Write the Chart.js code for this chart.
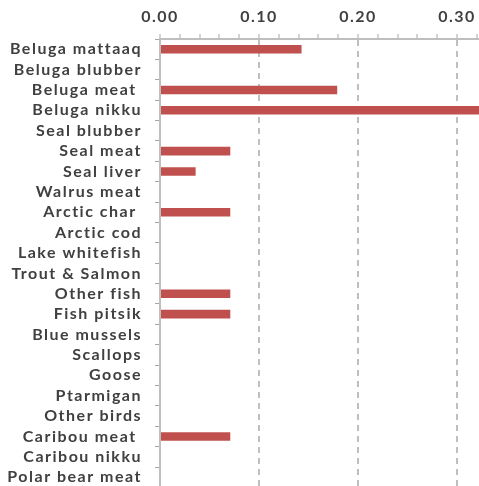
<!DOCTYPE html>
<html>
<head>
<meta charset="utf-8">
<script src="https://cdn.jsdelivr.net/npm/chart.js@4/dist/chart.umd.min.js"></script>
<style>
  html, body { margin: 0; padding: 0; background: #ffffff; overflow: hidden; }
  #wrap { width: 479px; height: 486px; overflow: hidden; position: relative; }
  canvas { display: block; }
</style>
</head>
<body>
<div id="wrap"><canvas id="chart" width="600" height="510"></canvas></div>
<script>
// Country food items (top to bottom)
const foods = [
  'Beluga mattaaq', 'Beluga blubber', 'Beluga meat ', 'Beluga nikku',
  'Seal blubber', 'Seal meat', 'Seal liver', 'Walrus meat',
  'Arctic char ', 'Arctic cod', 'Lake whitefish', 'Trout & Salmon',
  'Other fish', 'Fish pitsik', 'Blue mussels', 'Scallops',
  'Goose', 'Ptarmigan', 'Other birds', 'Caribou meat ',
  'Caribou nikku', 'Polar bear meat'
];

// Value per food item
const values = [
  0.143, 0, 0.179, 0.357,
  0, 0.071, 0.036, 0,
  0.071, 0, 0, 0,
  0.071, 0.071, 0, 0,
  0, 0, 0, 0.071,
  0, 0
];

// Axis range and tick spacing
const axisMin = 0;
const axisMax = 0.40;
const minorStep = 0.02;

const isMajor = v => Math.round(v * 100) % 10 === 0;

// Wider letter spacing on all canvas text
const spacingPlugin = {
  id: 'letterSpacing',
  beforeUpdate(chart) { chart.ctx.letterSpacing = '1.5px'; },
  beforeDraw(chart) { chart.ctx.letterSpacing = '1.5px'; }
};

Chart.defaults.font.family = "Lato, sans-serif";
Chart.defaults.font.size = 16;
Chart.defaults.font.weight = 'bold';
Chart.defaults.color = '#404040';

new Chart(document.getElementById('chart'), {
  type: 'bar',
  data: {
    labels: foods,
    datasets: [{
      data: values,
      backgroundColor: '#C0504D',
      borderWidth: 0,
      barPercentage: 0.42,
      categoryPercentage: 1.0
    }]
  },
  plugins: [spacingPlugin],
  options: {
    indexAxis: 'y',
    responsive: false,
    animation: false,
    devicePixelRatio: 1,
    layout: { padding: { left: 0, top: 0, right: 44, bottom: 22 } },
    plugins: {
      legend: { display: false },
      tooltip: { enabled: false }
    },
    scales: {
      x: {
        position: 'top',
        min: axisMin,
        max: axisMax,
        afterFit(scale) { scale.height = 39; },
        ticks: {
          stepSize: minorStep,
          autoSkip: false,
          maxRotation: 0,
          padding: 8,
          callback: v => isMajor(v) ? v.toFixed(2) : ''
        },
        grid: {
          color: ctx => (ctx.tick && isMajor(ctx.tick.value) && ctx.tick.value > 0) ? '#BFBFBF' : 'rgba(0,0,0,0)',
          lineWidth: 2,
          tickColor: '#A6A6A6',
          tickLength: 5,
          tickWidth: 1
        },
        border: { color: '#BFBFBF', width: 2, dash: [6, 5] }
      },
      y: {
        afterFit(scale) { scale.width = 160; },
        ticks: { padding: 13, autoSkip: false },
        grid: {
          drawOnChartArea: false,
          offset: true,
          tickColor: '#A6A6A6',
          tickLength: 5,
          tickWidth: 1
        },
        border: { color: '#BFBFBF', width: 2 }
      }
    }
  }
});
</script>
</body>
</html>
